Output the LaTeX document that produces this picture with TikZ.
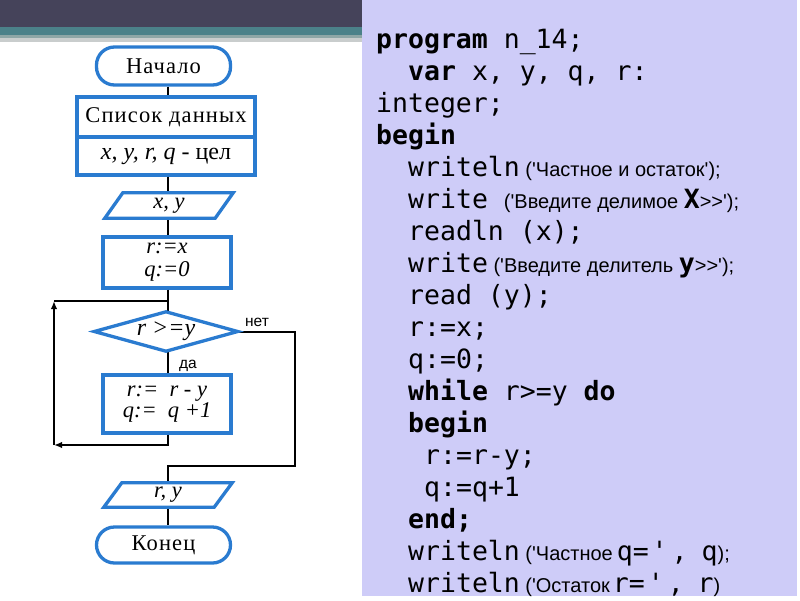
\documentclass[tikz,border=0pt]{standalone}
\usepackage{fontspec}
\usetikzlibrary{shapes.geometric,arrows.meta,calc}
\newfontfamily\monof[Ligatures=TeXOff]{DejaVu Sans Mono}
\newfontfamily\sansf[Ligatures=TeXOff]{Liberation Sans}
\newfontfamily\serff[Ligatures=TeXOff]{Liberation Serif}
\newfontfamily\serfls[Ligatures=TeXOff,LetterSpace=5]{Liberation Serif}
\definecolor{fcblue}{HTML}{2A7BD0}
\definecolor{bardark}{HTML}{45435A}
\definecolor{barteal}{HTML}{4B8189}
\definecolor{barmid}{HTML}{8EA6A6}
\definecolor{barlight}{HTML}{C9CDCD}
\definecolor{panel}{HTML}{CECCF8}
\newcommand\strf[1]{{\sansf\fontsize{20}{24}\selectfont #1}}
\newcommand\cyr[1]{{\serfls #1}}
\tikzset{
  blk/.style={draw=fcblue, line width=3.3pt, fill=white, inner sep=0pt, align=center,
    font=\serff\fontsize{22.5}{23}\selectfont},
  term/.style={blk, rounded corners=18pt, minimum width=134pt, minimum height=38pt},
  procbox/.style={blk, rectangle, minimum width=128pt},
  iobox/.style={inner sep=0pt, minimum width=110pt, align=center, font=\serff\fontsize{22.5}{23}\selectfont},
  iopath/.style={draw=fcblue, line width=3.3pt, fill=white, line join=miter},
  condbox/.style={inner sep=0pt, minimum width=143pt, minimum height=39pt, align=center, font=\serff\fontsize{24}{24}\selectfont},
  conn/.style={draw=black, line width=2pt},
  tip/.style={-{Latex[length=8pt,width=6.5pt]}},
  lbl/.style={inner sep=0pt, font=\sansf\fontsize{15.5}{18}\selectfont},
  codeline/.style={anchor=base west, inner sep=0pt, font=\monof\fontsize{26.5}{32}\selectfont}
}
\begin{document}
\begin{tikzpicture}[x=1pt,y=-1pt]
\useasboundingbox (0,0) rectangle (800,600);
\fill[white] (0,0) rectangle (800,600);
% top bar
\fill[bardark] (0,0) rectangle (362,27);
\fill[barteal] (0,27) rectangle (362,35);
\fill[barmid] (0,35) rectangle (362,38);
\fill[barlight] (0,38) rectangle (362,42);
% code panel
\fill[panel] (362,0) rectangle (797,596);

\coordinate (axis) at (168,0);
% flowchart nodes
\node[term] (start) at (163.5,66) {\cyr{Начало}};
\node[procbox, minimum width=178pt, minimum height=40pt] (data1) at (166,117) {\cyr{Список данных}};
\node[procbox, minimum width=178pt, minimum height=38pt, font=\serff\fontsize{24}{24}\selectfont] (data2) at (166,156) {\textit{x, y, r, q} - цел};
\node[iobox, minimum height=25pt] (in) at (169,205.5) {};
\node[procbox, minimum height=51pt] (assign) at (167,262.5) {\textit{r:=x}\\\textit{q:=0}};
\node[condbox] (cond) at (166,331.5) {};
\node[procbox, minimum height=58pt] (body) at (167,404) {\textit{r:=\ \ r - y}\\[-2pt]\textit{q:=\ \ q +1}};
\node[iobox, minimum height=24pt] (out) at (168,495) {};
\node[term, minimum height=36pt] (stop) at (163.5,545) {\cyr{Конец}};

% connectors
\coordinate (junc) at (168,301);
\coordinate (lefttop) at (54,301);
\coordinate (leftbot) at (54,445);
\coordinate (rightup) at (295,331.5);
\coordinate (rightdown) at (295,466);
\draw[conn] (start.south -| axis) -- (data1.north -| axis);
\draw[conn] (data2.south -| axis) -- (in.north -| axis);
\draw[conn] (in.south -| axis) -- (assign.north -| axis);
\draw[conn] (assign.south -| axis) -- (cond.north -| axis);
\draw[conn] (cond.south -| axis) -- (body.north -| axis);
\draw[conn, tip] (body.south -| axis) -- (axis |- leftbot) -- (leftbot);
\draw[conn, tip] (leftbot) -- (lefttop);
\draw[conn] (lefttop) -- (junc);
\draw[conn] (cond.east) -- (rightup) -- (rightdown) -- (axis |- rightdown) -- (out.north -| axis);
\draw[conn] (out.south -| axis) -- (stop.north -| axis);

% shapes drawn over the connectors
\draw[iopath] ($(in.south west)+(-9,0)$) -- ($(in.north west)+(9,0)$) -- ($(in.north east)+(9,0)$) -- ($(in.south east)+(-9,0)$) -- cycle;
\node[iobox, minimum height=25pt] at (in) {\textit{x, y}};
\draw[iopath] ($(out.south west)+(-9,0)$) -- ($(out.north west)+(9,0)$) -- ($(out.north east)+(9,0)$) -- ($(out.south east)+(-9,0)$) -- cycle;
\node[iobox, minimum height=24pt] at (out) {\textit{r, y}};
\draw[iopath] (cond.west) -- (cond.north) -- (cond.east) -- (cond.south) -- cycle;
\node[condbox] at (cond) {\textit{r >=y}};

\node[lbl] (no) at (257,322) {нет};
\node[lbl] (yes) at (188,366) {да};

% code
\node[codeline] (c0) at (376,48) {\textbf{program} n\_14;};
\node[codeline] (c1) at (408,80) {\textbf{var} x, y, q, r:};
\node[codeline] (c2) at (376,112) {integer;};
\node[codeline] (c3) at (376,144) {\textbf{begin}};
\node[codeline] (c4) at (408,176) {writeln\strf{ ('Частное и остаток');}};
\node[codeline] (c5) at (408,208) {write \strf{('Введите делимое }\textbf{X}\strf{>>');}};
\node[codeline] (c6) at (408,240) {readln (x);};
\node[codeline] (c7) at (408,272) {write\strf{ ('Введите делитель }\textbf{y}\strf{>>');}};
\node[codeline] (c8) at (408,304) {read (y);};
\node[codeline] (c9) at (408,336) {r:=x;};
\node[codeline] (c10) at (408,368) {q:=0;};
\node[codeline] (c11) at (408,400) {\textbf{while} r>=y \textbf{do}};
\node[codeline] (c12) at (408,432) {\textbf{begin}};
\node[codeline] (c13) at (424,464) {r:=r-y;};
\node[codeline] (c14) at (424,496) {q:=q+1};
\node[codeline] (c15) at (408,528) {\textbf{end;}};
\node[codeline] (c16) at (408,560) {writeln\strf{ ('Частное}\hspace{4pt}q=\hspace{3pt}'\hspace{4pt},\hspace{14pt}q\strf{);}};
\node[codeline] (c17) at (408,592) {writeln\strf{ ('Остаток}\hspace{3pt}r=\hspace{3pt}'\hspace{4pt},\hspace{14pt}r\strf{)}};
\end{tikzpicture}
\end{document}
